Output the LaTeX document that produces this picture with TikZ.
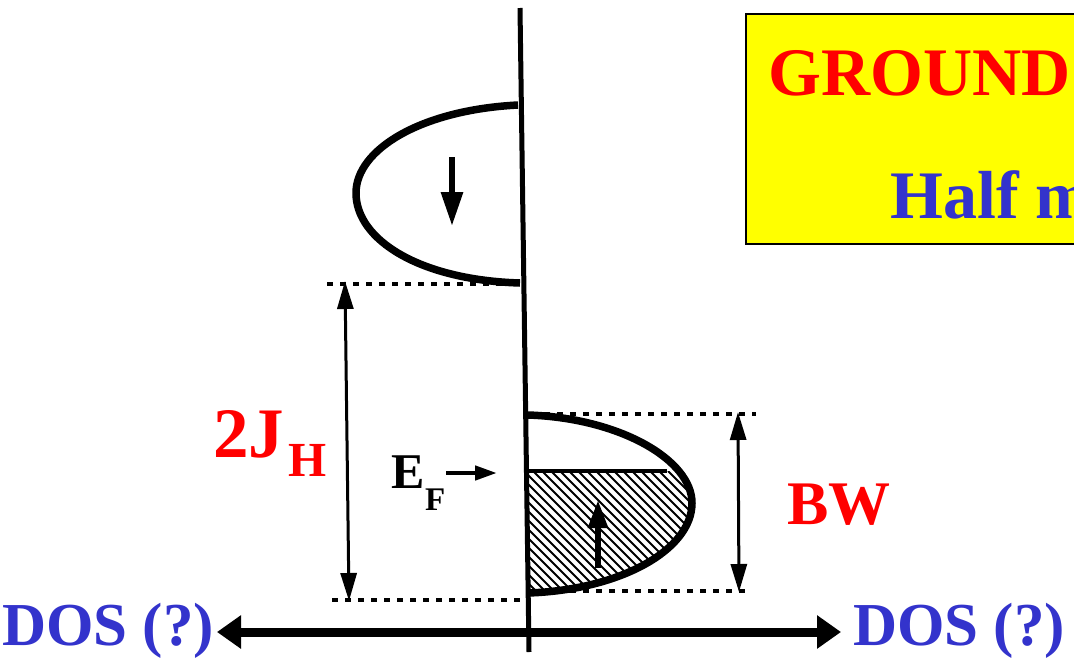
\documentclass[tikz,border=0pt]{standalone}
\usepackage{fontspec}
\setmainfont{Liberation Serif}
\usetikzlibrary{arrows.meta}
\definecolor{dosblue}{RGB}{51,51,204}
\definecolor{boxyellow}{RGB}{255,255,0}
\tikzset{
  lobe/.style={line width=7.5pt, line join=round},
  dotline/.style={line width=3.5pt, dash pattern=on 6pt off 7pt},
  dimarrow/.style={line width=3pt, {Triangle[length=28pt,width=16pt]}-{Triangle[length=28pt,width=16pt]}},
  spinarrow/.style={line width=6pt, -{Triangle[length=34pt,width=21pt]}},
  efarrow/.style={line width=4.5pt, -{Triangle[length=22pt,width=14pt]}},
  dosarrow/.style={line width=9pt, {Triangle[length=24pt,width=32pt]}-{Triangle[length=24pt,width=32pt]}},
  lbl/.style={inner sep=0pt, anchor=base west, font=\bfseries},
}
\begin{document}
\begin{tikzpicture}[x=1pt,y=-1pt]
\useasboundingbox (0,0) rectangle (1074,659);
\clip (0,0) rectangle (1074,659);
\fill[white] (0,0) rectangle (1074,659);

% title box
\node[draw=black, line width=2pt, fill=boxyellow, minimum width=400pt, minimum height=230pt, anchor=north west, inner sep=0pt] (box) at (745,13) {};
\node[lbl, text=red, font=\bfseries\fontsize{68}{70}\selectfont] (ground) at (768,95) {GROUND};
\node[lbl, text=dosblue, font=\bfseries\fontsize{68}{70}\selectfont] (half) at (890,218) {Half m};

% axis
\coordinate (axtop) at (520,8);
\coordinate (axbot) at (529,652);
\draw[line width=5pt] (axtop) -- (axbot);

% hatching of the filled part of the spin-up lobe
\begin{scope}
  \clip (528,415) .. controls (620,418) and (692,460) .. (692,503) .. controls (692,550) and (620,590) .. (528,593) -- cycle;
  \clip (520,471) rectangle (700,600);
  \foreach \i in {0,...,34} \draw[line width=2pt] ({380+9*\i},471) -- ++(140,140);
\end{scope}

% spin-down lobe
\draw[lobe] (518,105) .. controls (420,110) and (356,150) .. (356,193) .. controls (356,240) and (420,280) .. (520,283);
% spin-up lobe
\draw[lobe] (528,415) .. controls (620,418) and (692,460) .. (692,503) .. controls (692,550) and (620,590) .. (528,593);
\coordinate (efl) at (526,471);
\coordinate (efr) at (667,471);
\draw[line width=4.5pt] (efl) -- (efr);

% spin arrows
\coordinate (dn1) at (452,157);
\coordinate (dn2) at (452,226);
\draw[spinarrow] (dn1) -- (dn2);
\coordinate (up1) at (598,568);
\coordinate (up2) at (598,500);
\draw[spinarrow, -{Triangle[length=28pt,width=19pt]}] (up1) -- (up2);

% dotted guide lines
\coordinate (d1a) at (327,284); \coordinate (d1b) at (519,284);
\coordinate (d2a) at (332,600); \coordinate (d2b) at (528,600);
\coordinate (d3a) at (531,414); \coordinate (d3b) at (756,414);
\coordinate (d4a) at (531,591); \coordinate (d4b) at (746,591);
\draw[dotline] (d1a) -- (d1b);
\draw[dotline] (d2a) -- (d2b);
\draw[dotline] (d3a) -- (d3b);
\draw[dotline] (d4a) -- (d4b);

% dimension arrows
\coordinate (jt) at (345,281);
\coordinate (jb) at (349,601);
\draw[dimarrow] (jt) -- (jb);
\coordinate (bt) at (738,412);
\coordinate (bb) at (739,592);
\draw[dimarrow] (bt) -- (bb);

% labels
\node[lbl, text=red, font=\bfseries\fontsize{71}{72}\selectfont] (twoj) at (213,457) {2J};
\node[lbl, text=red, font=\bfseries\fontsize{49}{50}\selectfont] (jh) at (288,476) {H};
\node[lbl, text=red, font=\bfseries\fontsize{62}{64}\selectfont] (bw) at (787,524) {BW};
\node[lbl, font=\bfseries\fontsize{50}{52}\selectfont] (ef) at (391,488) {E};
\node[lbl, font=\bfseries\fontsize{33}{34}\selectfont] (efsub) at (425,510) {F};
\coordinate (efa1) at (446,473);
\coordinate (efa2) at (497,473);
\draw[efarrow] (efa1) -- (efa2);

% DOS axis
\node[lbl, text=dosblue, font=\bfseries\fontsize{61}{63}\selectfont] (dosl) at (2,645) {DOS (?)};
\node[lbl, text=dosblue, font=\bfseries\fontsize{61}{63}\selectfont] (dosr) at (853,645) {DOS (?)};
\coordinate (dal) at (217,632);
\coordinate (dar) at (841,632);
\draw[dosarrow] (dal) -- (dar);
\end{tikzpicture}
\end{document}
